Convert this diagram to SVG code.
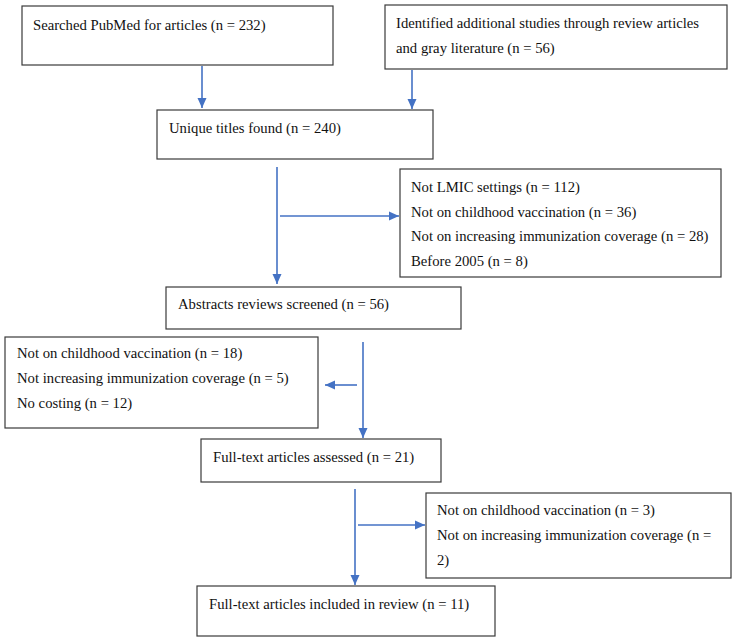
<svg xmlns="http://www.w3.org/2000/svg" width="736" height="642" viewBox="0 0 736 642">
<style>
.box{fill:#fff;stroke:#3a3a3a;stroke-width:1.2}
.t{font-family:"Liberation Serif","Times New Roman",serif;font-size:14.7px;fill:#111}
.c{stroke:#4472c4;stroke-width:1.6;fill:none}
</style>
<defs>
<marker id="ah" markerUnits="userSpaceOnUse" markerWidth="10" markerHeight="12" viewBox="0 0 10 12" refX="10" refY="6" orient="auto">
<path d="M0,1.5 L10,6 L0,10.5 Z" fill="#4472c4"/>
</marker>
</defs>
<rect width="736" height="642" fill="#fff"/>
<g id="n1"><rect class="box" x="22" y="6" width="311" height="59"/><text class="t" x="33" y="30">Searched PubMed for articles (n = 232)</text></g>
<g id="n2"><rect class="box" x="385" y="5" width="342" height="64"/><text class="t" x="396" y="28">Identified additional studies through review articles</text><text class="t" x="396" y="53">and gray literature (n = 56)</text></g>
<g id="n3"><rect class="box" x="157" y="110" width="276" height="49"/><text class="t" x="169" y="133">Unique titles found (n = 240)</text></g>
<g id="n4"><rect class="box" x="400" y="169" width="321" height="108"/><text class="t" x="411" y="192">Not LMIC settings (n = 112)</text><text class="t" x="411" y="216.5">Not on childhood vaccination (n = 36)</text><text class="t" x="411" y="241">Not on increasing immunization coverage (n = 28)</text><text class="t" x="411" y="265.5">Before 2005 (n = 8)</text></g>
<g id="n5"><rect class="box" x="166" y="287" width="295" height="42"/><text class="t" x="178" y="309">Abstracts reviews screened (n = 56)</text></g>
<g id="n6"><rect class="box" x="5" y="337" width="313" height="91"/><text class="t" x="17" y="358">Not on childhood vaccination (n = 18)</text><text class="t" x="17" y="383">Not increasing immunization coverage (n = 5)</text><text class="t" x="17" y="408">No costing (n = 12)</text></g>
<g id="n7"><rect class="box" x="201" y="439" width="240" height="43"/><text class="t" x="213" y="462">Full-text articles assessed (n = 21)</text></g>
<g id="n8"><rect class="box" x="426" y="493" width="305" height="85"/><text class="t" x="437" y="515">Not on childhood vaccination (n = 3)</text><text class="t" x="437" y="540">Not on increasing immunization coverage (n =</text><text class="t" x="437" y="565">2)</text></g>
<g id="n9"><rect class="box" x="197" y="586" width="298" height="50"/><text class="t" x="209" y="609">Full-text articles included in review (n = 11)</text></g>
<g id="connectors">
<line class="c" x1="202" y1="66" x2="202" y2="108" marker-end="url(#ah)"/>
<line class="c" x1="412" y1="70" x2="412" y2="109" marker-end="url(#ah)"/>
<line class="c" x1="277" y1="167" x2="277" y2="284" marker-end="url(#ah)"/>
<line class="c" x1="280" y1="216" x2="399" y2="216" marker-end="url(#ah)"/>
<line class="c" x1="363" y1="342" x2="363" y2="438" marker-end="url(#ah)"/>
<line class="c" x1="357" y1="385" x2="325" y2="385" marker-end="url(#ah)"/>
<line class="c" x1="355" y1="489" x2="355" y2="585" marker-end="url(#ah)"/>
<line class="c" x1="358" y1="525" x2="425" y2="525" marker-end="url(#ah)"/>
</g>
</svg>
